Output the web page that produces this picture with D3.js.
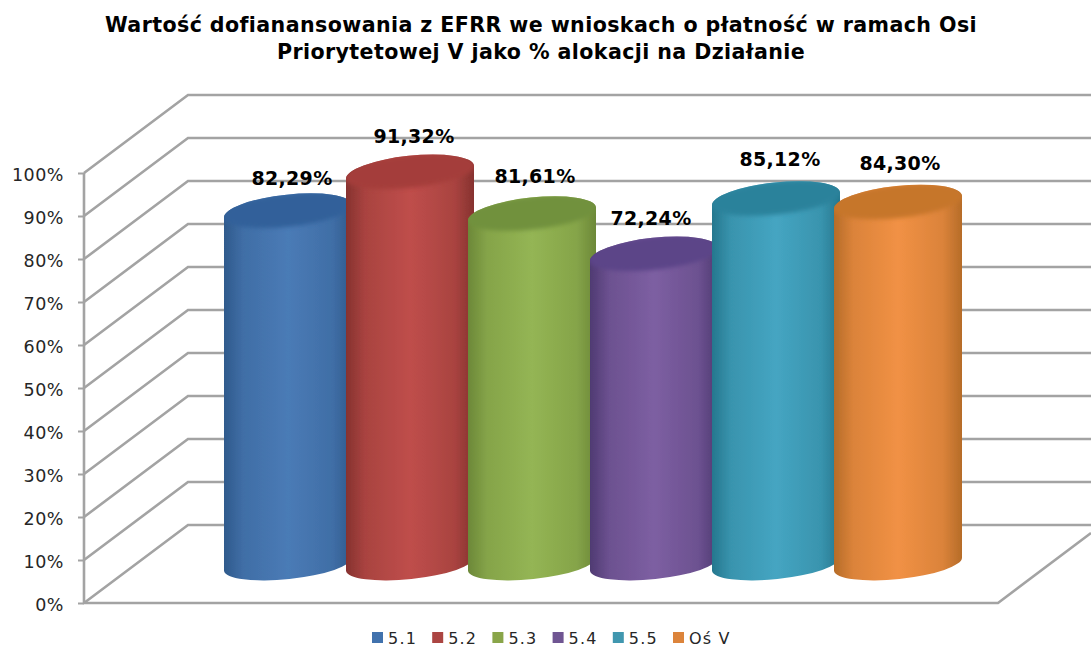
<!DOCTYPE html>
<html><head><meta charset="utf-8">
<script src="https://cdn.jsdelivr.net/npm/d3@7"></script>
<style>html,body{margin:0;padding:0;background:#fff}svg{display:block}text{font-family:"DejaVu Sans",sans-serif}</style>
</head><body><svg id="c" width="1091" height="645"></svg>
<script>
const titleLines = ["Wartość dofianansowania z EFRR we wnioskach o płatność w ramach Osi","Priorytetowej V jako % alokacji na Działanie"];
const categories = ["5.1","5.2","5.3","5.4","5.5","Oś V"];
const values = [82.29,91.32,81.61,72.24,85.12,84.30];
const valueLabels = ["82,29%","91,32%","81,61%","72,24%","85,12%","84,30%"];
const ticks = [0,10,20,30,40,50,60,70,80,90,100];
const legendColors = ["#4172ad","#ab4542","#89a549","#6f5592","#4097af","#dc843b"];
const edgeColors = ["#2f5a8c","#86322f","#6c8838","#4f3a72","#25778e","#b66c28"];
const midColors = ["#4a7bb6","#bf4e4b","#94b554","#7d5fa2","#45a5c2","#f19145"];
const capColors = ["#31609a","#a43d3b","#71913c","#5c4588","#2c829b","#c6762c"];

const svg = d3.select("#c");
const defs = svg.append("defs");
defs.append("filter").attr("id","soft").append("feGaussianBlur").attr("stdDeviation",0.5);
defs.append("filter").attr("id","soft2").attr("x","-10%").attr("y","-40%").attr("width","120%").attr("height","180%").append("feGaussianBlur").attr("stdDeviation",2.2);
categories.forEach((c,i)=>{
  const g = defs.append("linearGradient").attr("id","g"+i);
  const mix = d3.interpolateRgb(edgeColors[i],midColors[i]);
  [[0,edgeColors[i]],[.15,mix(.62)],[.5,midColors[i]],[.85,mix(.62)],[1,edgeColors[i]]]
    .forEach(s=>g.append("stop").attr("offset",s[0]).attr("stop-color",s[1]));
});

const depthX = 104, depthY = 78, right = 1091, floorRight = 998;
const y = d3.scaleLinear().domain([0,100]).range([603,173]);
const x = d3.scaleBand().domain(categories).range([227,959]);
const rx = 64, ry = 15, capRy = 16.5, tilt = -6, lean = rx*Math.sin(6*Math.PI/180);

// wall and floor
const grid = svg.append("g").attr("filter","url(#soft)").attr("fill","none").attr("stroke","#a3a3a3").attr("stroke-width",2.6);
grid.selectAll("path.g").data(ticks).join("path").attr("class","g")
  .attr("d",t=>`M${84},${y(t)}L${84+depthX},${y(t)-depthY}L${right},${y(t)-depthY}`);
grid.append("path").attr("d",`M84,${y(100)}L84,${y(0)}L${floorRight},${y(0)}L${floorRight+93},${y(0)-70}`);

// axis labels via d3 axis
const ax = svg.append("g").attr("transform","translate(84,0)").call(d3.axisLeft(y).tickValues(ticks).tickFormat(d=>d+"%").tickSize(6).tickPadding(14));
ax.select(".domain").remove();
ax.selectAll("line").attr("stroke","#a3a3a3").attr("stroke-width",2);
ax.selectAll("text").attr("dy",".42em").attr("font-size",17.5).attr("letter-spacing",.5).attr("fill","#262626").style("font-family",'"DejaVu Sans",sans-serif');

// cylinders
const bars = svg.append("g");
const cx = c => x(c)+x.bandwidth()/2;
const topY = v => y(v)-depthY/2, base = y(0)-depthY/2;
values.forEach((v,i)=>{
  const c = categories[i], X = cx(c), T = topY(v)+1, B = base;
  const g = bars.append("g");
  const bodyD = `M${X-rx},${T+lean}L${X-rx},${B+lean}A${rx},${ry} ${tilt} 0 0 ${X+rx},${B-lean}L${X+rx},${T-lean}A${rx},${capRy} ${tilt} 0 0 ${X-rx},${T+lean}Z`;
  defs.append("clipPath").attr("id","clip"+i).append("path").attr("d",bodyD);
  g.append("path").attr("d",bodyD).attr("fill",`url(#g${i})`).attr("filter","url(#soft)");
  g.append("g").attr("clip-path",`url(#clip${i})`).append("ellipse").attr("cx",X).attr("cy",T-1).attr("rx",rx+2).attr("ry",capRy)
    .attr("transform",`rotate(${tilt} ${X} ${T})`).attr("fill",capColors[i]).attr("filter","url(#soft2)");
});

// value labels
const labelNudgeX = [4,4,3,-3,4,2], labelNudgeY = [-31,-34,-36,-34,-38,-38];
svg.append("g").selectAll("text").data(values).join("text")
  .attr("x",(d,i)=>cx(categories[i])+labelNudgeX[i])
  .attr("y",(d,i)=>topY(d)+labelNudgeY[i]+6)
  .attr("text-anchor","middle").attr("font-size",19).attr("letter-spacing",.3).attr("font-weight","bold").attr("fill","#000")
  .text((d,i)=>valueLabels[i]);

// title
svg.append("g").selectAll("text").data(titleLines).join("text")
  .attr("x",541).attr("y",(d,i)=>32+i*27).attr("text-anchor","middle")
  .attr("font-size",20.6).attr("letter-spacing",.4).attr("font-weight","bold").attr("fill","#000").text(d=>d);

// legend
const lg = svg.append("g").selectAll("g").data(categories).join("g")
  .attr("transform",(d,i)=>`translate(${372+i*60.2},632)`);
lg.append("rect").attr("width",11).attr("height",11).attr("fill",(d,i)=>legendColors[i]);
lg.append("text").attr("x",16).attr("y",12).attr("font-size",16).attr("letter-spacing",1.2).attr("fill","#262626").text(d=>d);
</script></body></html>
